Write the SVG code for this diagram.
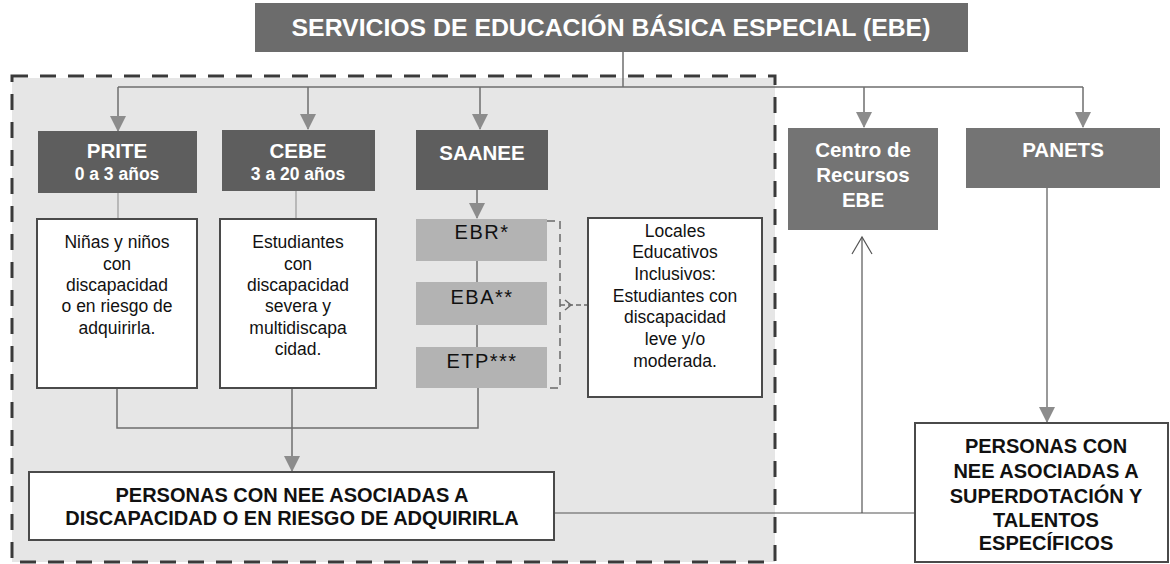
<svg xmlns="http://www.w3.org/2000/svg" width="1170" height="564" viewBox="0 0 1170 564">
<style>
text{font-family:"Liberation Sans",Arial,sans-serif;text-anchor:middle}
.dark{fill:#5e5e5e}
.mid{fill:#747474}
.light{fill:#b3b3b3}
.wbox{fill:#fff;stroke:#4a4a4a;stroke-width:2}
.wt{fill:#fff;font-weight:bold;font-size:20.5px}
.wa{fill:#fff;font-weight:bold;font-size:17.5px}
.bt{fill:#111;font-size:17.5px}
.st{fill:#111;font-size:20px;letter-spacing:1.5px}
.bb{fill:#111;font-size:20px;font-weight:bold}
.c{fill:none;stroke:#6e6e6e;stroke-width:1.5}
.thin{fill:none;stroke:#555;stroke-width:1.2}
.faint{fill:none;stroke:#9a9a9a;stroke-width:1.2}
</style>
<defs>
<marker id="ahBig" markerWidth="16" markerHeight="16" refX="15" refY="8" orient="auto" markerUnits="userSpaceOnUse" viewBox="0 0 16 16">
<path d="M0,0 L16,8 L0,16 Z" fill="#8c8c8c"/>
</marker>
</defs>
<rect width="1170" height="564" fill="#fff"/>
<g id="container">
<rect x="12" y="78" width="763" height="484" fill="#e6e6e6"/>
<rect x="12" y="76" width="763" height="486" fill="none" stroke="#3a3a3a" stroke-width="3" stroke-dasharray="16 12"/>
</g>
<g id="connectors">
<line class="c" x1="623" y1="52" x2="623" y2="87"/>
<line class="c" x1="118" y1="87" x2="1083" y2="87"/>
<line class="c" x1="118" y1="87" x2="118" y2="131" marker-end="url(#ahBig)"/>
<line class="c" x1="308" y1="87" x2="308" y2="129" marker-end="url(#ahBig)"/>
<line class="c" x1="480" y1="87" x2="480" y2="129" marker-end="url(#ahBig)"/>
<line class="c" x1="864" y1="87" x2="864" y2="127" marker-end="url(#ahBig)"/>
<line class="c" x1="1083" y1="87" x2="1083" y2="127" marker-end="url(#ahBig)"/>
<line class="faint" x1="118" y1="193" x2="118" y2="219"/>
<line class="faint" x1="296" y1="191" x2="296" y2="219"/>
<line class="c" x1="477" y1="190" x2="477" y2="218" marker-end="url(#ahBig)"/>
<line class="c" x1="477" y1="261" x2="477" y2="282"/>
<line class="c" x1="477" y1="325" x2="477" y2="347"/>
<path class="c" d="M117,388 V428 H478 V388"/>
<line class="c" x1="292" y1="388" x2="292" y2="471" marker-end="url(#ahBig)"/>
<path d="M547,221 H560 V388 H547" fill="none" stroke="#6a6a6a" stroke-width="1.5" stroke-dasharray="8 5"/>
<line x1="560" y1="305" x2="587" y2="305" stroke="#6a6a6a" stroke-width="1.5" stroke-dasharray="5 3"/>
<path d="M565,300 L571,305 L565,310" fill="none" stroke="#6a6a6a" stroke-width="1.5"/>
<line class="thin" x1="554" y1="513" x2="915" y2="513"/>
<line class="thin" x1="862" y1="513" x2="862" y2="237"/>
<path class="thin" d="M852,254 L862,237 L872,254"/>
<line class="thin" x1="1047" y1="188" x2="1047" y2="422" marker-end="url(#ahBig)"/>
</g>
<g id="title">
<rect x="255" y="3" width="713" height="49" fill="#6c6c6c"/>
<text x="611" y="36" fill="#fff" font-size="24.8" font-weight="bold">SERVICIOS DE EDUCACIÓN BÁSICA ESPECIAL (EBE)</text>
</g>
<g id="prite">
<rect class="dark" x="38" y="131" width="159" height="62"/>
<text class="wt" x="117" y="158">PRITE</text>
<text class="wa" x="117" y="180">0 a 3 años</text>
</g>
<g id="cebe">
<rect class="dark" x="222" y="130" width="153" height="61"/>
<text class="wt" x="298" y="158">CEBE</text>
<text class="wa" x="298" y="180">3 a 20 años</text>
</g>
<g id="saanee">
<rect class="dark" x="416" y="130" width="132" height="60"/>
<text class="wt" x="482" y="160">SAANEE</text>
</g>
<g id="centro">
<rect class="mid" x="788" y="128" width="150" height="102"/>
<text class="wt" x="863" y="157">Centro de</text>
<text class="wt" x="863" y="182">Recursos</text>
<text class="wt" x="863" y="207">EBE</text>
</g>
<g id="panets">
<rect class="mid" x="966" y="128" width="194" height="60"/>
<text class="wt" x="1063" y="157">PANETS</text>
</g>
<g id="ebr">
<rect class="light" x="416" y="219" width="131" height="42"/>
<text class="st" x="482" y="239">EBR*</text>
</g>
<g id="eba">
<rect class="light" x="416" y="282" width="131" height="43"/>
<text class="st" x="482" y="304">EBA**</text>
</g>
<g id="etp">
<rect class="light" x="416" y="347" width="131" height="41"/>
<text class="st" x="482" y="368">ETP***</text>
</g>
<g id="ninos">
<rect class="wbox" x="37" y="219" width="160" height="169"/>
<text class="bt" x="117" y="248">Niñas y niños</text>
<text class="bt" x="117" y="270">con</text>
<text class="bt" x="117" y="291">discapacidad</text>
<text class="bt" x="117" y="312">o en riesgo de</text>
<text class="bt" x="117" y="334">adquirirla.</text>
</g>
<g id="estudiantes">
<rect class="wbox" x="220" y="219" width="156" height="169"/>
<text class="bt" x="298" y="248">Estudiantes</text>
<text class="bt" x="298" y="270">con</text>
<text class="bt" x="298" y="291">discapacidad</text>
<text class="bt" x="298" y="312">severa y</text>
<text class="bt" x="298" y="334">multidiscapa</text>
<text class="bt" x="298" y="355">cidad.</text>
</g>
<g id="locales">
<rect class="wbox" x="588" y="218" width="174" height="179"/>
<text class="bt" x="675" y="237">Locales</text>
<text class="bt" x="675" y="258">Educativos</text>
<text class="bt" x="675" y="280">Inclusivos:</text>
<text class="bt" x="675" y="302">Estudiantes con</text>
<text class="bt" x="675" y="323">discapacidad</text>
<text class="bt" x="675" y="345">leve y/o</text>
<text class="bt" x="675" y="367">moderada.</text>
</g>
<g id="personas-discapacidad">
<rect class="wbox" x="29" y="472" width="525" height="68"/>
<text class="bb" x="292" y="502">PERSONAS CON NEE ASOCIADAS A</text>
<text class="bb" x="292" y="525">DISCAPACIDAD O EN RIESGO DE ADQUIRIRLA</text>
</g>
<g id="personas-superdotacion">
<rect class="wbox" x="915" y="423" width="253" height="139"/>
<text class="bb" x="1046" y="453">PERSONAS CON</text>
<text class="bb" x="1046" y="478">NEE ASOCIADAS A</text>
<text class="bb" x="1046" y="503">SUPERDOTACIÓN Y</text>
<text class="bb" x="1046" y="527">TALENTOS</text>
<text class="bb" x="1046" y="550">ESPECÍFICOS</text>
</g>
</svg>
